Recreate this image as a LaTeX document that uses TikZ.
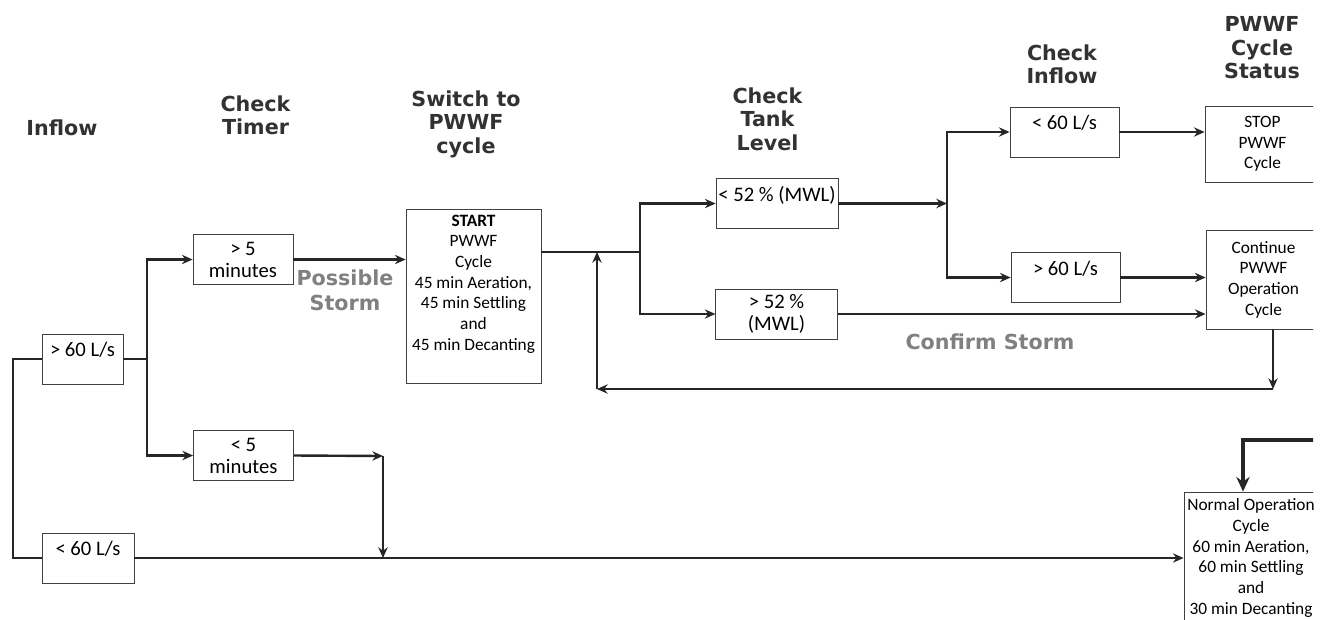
\documentclass[tikz,border=0pt]{standalone}
\usepackage{fontspec}
\setmainfont{Carlito}
\newfontfamily\headfont{DejaVu Sans}
\usetikzlibrary{arrows.meta}
\definecolor{headgray}{RGB}{50,50,50}
\definecolor{notegray}{RGB}{128,128,128}
\begin{document}
\begin{tikzpicture}[
        x=0.75pt, y=-0.75pt,
        heading/.style={font=\headfont\bfseries\fontsize{15.5}{17.6}\selectfont, text=headgray, align=center},
        stormnote/.style={font=\headfont\bfseries\fontsize{15.5}{18.5}\selectfont, text=notegray, align=center},
        cond/.style={draw=black!75, line width=0.6pt, minimum height=37.5pt, inner sep=1pt, align=center, font=\fontsize{15.5}{16.5}\selectfont},
        onecond/.style={draw=black!75, line width=0.6pt, inner sep=1pt, text height=16pt, text depth=19.5pt, font=\fontsize{15.5}{16.5}\selectfont},
        stagebox/.style={draw=black!75, line width=0.6pt, inner sep=1pt, align=center, font=\fontsize{13}{15.5}\selectfont},
        link/.style={line width=1.8pt, black!85},
        arr/.style={link, -{Stealth[length=8pt, width=7pt]}},
        bigarr/.style={line width=2.6pt, black!85, -{Stealth[length=11pt, width=10pt]}}
    ]
    \useasboundingbox (0,0) rectangle (1325,619);
    \clip (0,0) rectangle (1313,619);
    % column headings
    \node[heading] (hinflow) at (62,128) {Inflow};
    \node[heading] (htimer) at (255.5,115.5) {Check\\Timer};
    \node[heading] (hswitch) at (466,124) {Switch to\\PWWF\\cycle};
    \node[heading] (htank) at (767.5,119) {Check\\Tank\\Level};
    \node[heading] (hcheck) at (1062,64.5) {Check\\Inflow};
    \node[heading] (hstatus) at (1262,48) {PWWF\\Cycle\\Status};
    \node[stormnote] (possible) at (345,290) {Possible\\Storm};
    \node[stormnote] (confirm) at (990,342) {Confirm Storm};
    % boxes
    \node[onecond, minimum width=60.75pt] (in60) at (82.5,359) {> 60 L/s};
    \node[onecond, minimum width=69pt] (out60) at (88,558) {< 60 L/s};
    \node[cond, minimum width=75pt] (tgt5) at (243,259.5) {> 5\\minutes};
    \node[cond, minimum width=75pt] (tlt5) at (243.5,455.5) {< 5\\minutes};
    \node[stagebox, minimum width=101.25pt, minimum height=130.5pt] (start) at (473.5,296)
        {\textbf{START}\\PWWF\\Cycle\\45 min Aeration,\\45 min Settling\\and\\45 min Decanting\\ \strut};
    \node[onecond, minimum width=91.5pt] (lvllo) at (777,203.5) {< 52 \% (MWL)};
    \node[cond, minimum width=91pt] (lvlhi) at (776.5,314) {> 52 \%\\(MWL)};
    \node[onecond, minimum width=81.75pt] (flwlo) at (1064.5,132) {< 60 L/s};
    \node[onecond, minimum width=81.75pt] (flwhi) at (1065.5,277.5) {> 60 L/s};
    \node[stagebox, minimum width=86.25pt, minimum height=57pt] (stop) at (1262.5,144) {STOP\\PWWF\\Cycle};
    \node[stagebox, minimum width=86.25pt, minimum height=74.25pt] (cont) at (1263.5,279.5) {Continue\\PWWF\\Operation\\Cycle};
    \node[stagebox, minimum width=100.5pt, minimum height=99pt] (normal) at (1251,558)
        {Normal Operation\\Cycle\\60 min Aeration,\\60 min Settling\\and\\30 min Decanting};
    % junctions
    \coordinate (jl) at (13,359);
    \coordinate (jt) at (147,359);
    \coordinate (jm) at (383,456);
    \coordinate (js) at (640,252);
    \coordinate (jf) at (947,203.5);
    \coordinate (jr) at (1273,389);
    \coordinate (jb) at (597,389);
    \coordinate (jn) at (1330,440);
    \coordinate (jd) at (1243,440);
    % connectors
    \draw[link] (in60) -- (jl) |- (out60);
    \draw[link] (in60) -- (jt);
    \draw[arr] (jt) |- (tgt5);
    \draw[arr] (jt) |- (tlt5);
    \draw[arr] (tgt5.east) -- (tgt5.east -| start.west);
    \draw[arr] (tlt5.east) -- (jm);
    \draw[arr] (jm) -- (jm |- out60);
    \draw[arr] (out60) -- (out60 -| normal.west);
    \draw[link] (start.east |- js) -- (js);
    \draw[arr] (js) |- (lvllo);
    \draw[arr] (js) |- (lvlhi);
    \draw[arr] (lvllo) -- (jf);
    \draw[arr] (jf) |- (flwlo);
    \draw[arr] (jf) |- (flwhi);
    \draw[arr] (flwlo) -- (flwlo -| stop.west);
    \draw[arr] (flwhi) -- (flwhi -| cont.west);
    \draw[arr] (lvlhi) -- (lvlhi -| cont.west);
    \draw[arr] (cont.south -| jr) -- (jr);
    \draw[arr] (jr) -- (jb);
    \draw[arr] (jb) -- (jb |- js);
    \draw[bigarr] (jn) -- (jd) -- (jd |- normal.north);
\end{tikzpicture}
\end{document}
